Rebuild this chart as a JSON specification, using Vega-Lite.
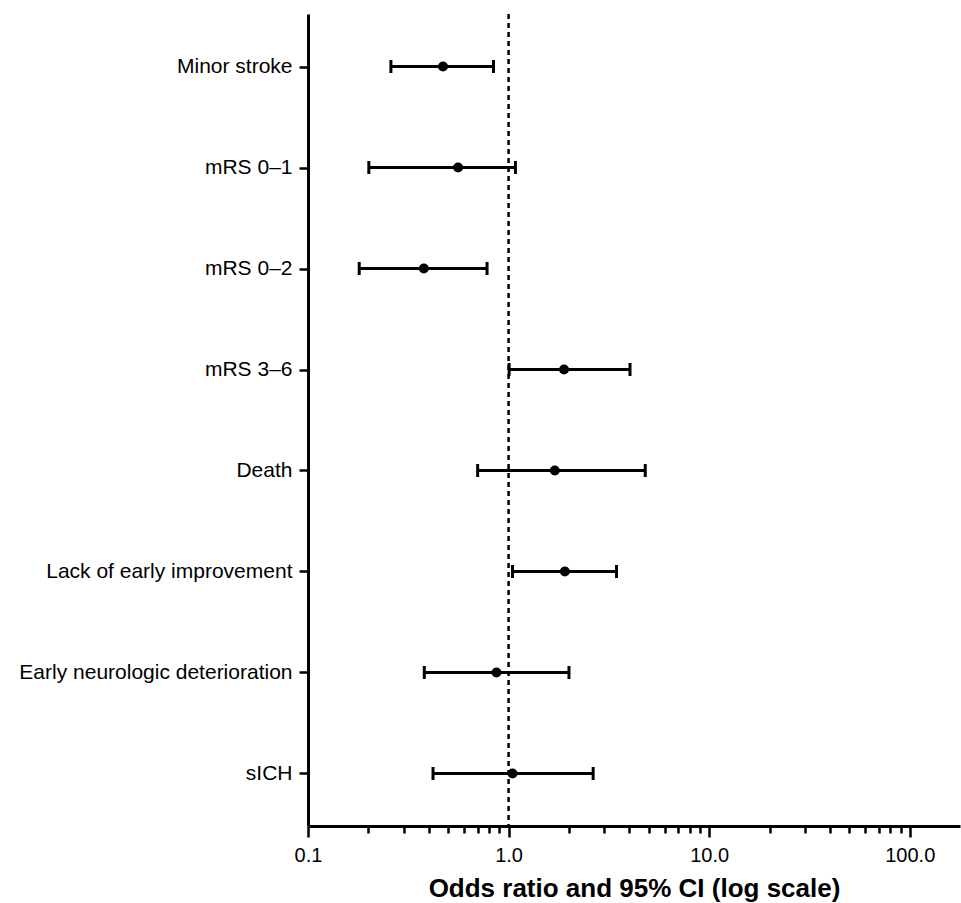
{
  "$schema": "https://vega.github.io/schema/vega-lite/v6.json",
  "autosize": "none",
  "padding": {"left": 308, "top": 14, "right": 1, "bottom": 77},
  "width": 652,
  "height": 812,
  "background": "white",
  "config": {
    "view": {"stroke": null},
    "font": "Liberation Sans",
    "axis": {"grid": false, "domainColor": "black", "tickColor": "black", "labelColor": "black", "titleColor": "black", "labelFont": "Liberation Sans", "titleFont": "Liberation Sans"}
  },
  "data": {
    "values": [
      {"outcome": "Minor stroke", "or": 0.471, "lo": 0.259, "hi": 0.841},
      {"outcome": "mRS 0–1", "or": 0.560, "lo": 0.201, "hi": 1.082},
      {"outcome": "mRS 0–2", "or": 0.378, "lo": 0.180, "hi": 0.781},
      {"outcome": "mRS 3–6", "or": 1.89, "lo": 1.006, "hi": 4.03},
      {"outcome": "Death", "or": 1.70, "lo": 0.701, "hi": 4.80},
      {"outcome": "Lack of early improvement", "or": 1.908, "lo": 1.046, "hi": 3.45},
      {"outcome": "Early neurologic deterioration", "or": 0.870, "lo": 0.380, "hi": 2.00},
      {"outcome": "sICH", "or": 1.046, "lo": 0.420, "hi": 2.64}
    ]
  },
  "layer": [
    {
      "data": {"values": [{"ref": 1}]},
      "mark": {"type": "rule", "color": "black", "strokeWidth": 2.5, "strokeDash": [5, 4]},
      "encoding": {
        "x": {"field": "ref", "type": "quantitative"}
      }
    },
    {
      "mark": {"type": "rule", "color": "black", "strokeWidth": 3},
      "encoding": {
        "y": {"field": "outcome", "type": "nominal", "sort": null, "scale": {"type": "point", "padding": 0.52},
          "axis": {"title": null, "domainWidth": 3, "tickSize": 9, "tickWidth": 2.5, "labelFontSize": 21, "labelPadding": 7, "labelLimit": 500}},
        "x": {"field": "lo", "type": "quantitative",
          "scale": {"type": "log", "domain": [0.1, 178], "nice": false},
          "axis": {
            "title": "Odds ratio and 95% CI (log scale)",
            "titleFontSize": 26,
            "titleFontWeight": "bold",
            "titlePadding": 10,
            "domainWidth": 3,
            "tickWidth": 2.5,
            "tickSize": {"condition": {"test": "datum.value == 0.1 || datum.value == 1 || datum.value == 10 || datum.value == 100", "value": 11}, "value": 7},
            "values": [0.1, 0.2, 0.3, 0.4, 0.5, 0.6, 0.7, 0.8, 0.9, 1, 2, 3, 4, 5, 6, 7, 8, 9, 10, 20, 30, 40, 50, 60, 70, 80, 90, 100],
            "labelExpr": "(datum.value == 0.1 || datum.value == 1 || datum.value == 10 || datum.value == 100) ? format(datum.value, '.1f') : ''",
            "labelOverlap": false,
            "labelFlush": false,
            "labelFontSize": 20,
            "labelPadding": 8
          }},
        "x2": {"field": "hi"}
      }
    },
    {
      "mark": {"type": "tick", "color": "black", "opacity": 1, "size": 13, "thickness": 3},
      "encoding": {
        "y": {"field": "outcome", "type": "nominal", "sort": null},
        "x": {"field": "lo", "type": "quantitative"}
      }
    },
    {
      "mark": {"type": "tick", "color": "black", "opacity": 1, "size": 13, "thickness": 3},
      "encoding": {
        "y": {"field": "outcome", "type": "nominal", "sort": null},
        "x": {"field": "hi", "type": "quantitative"}
      }
    },
    {
      "mark": {"type": "point", "shape": "circle", "filled": true, "color": "black", "opacity": 1, "size": 100},
      "encoding": {
        "y": {"field": "outcome", "type": "nominal", "sort": null},
        "x": {"field": "or", "type": "quantitative"}
      }
    }
  ]
}
